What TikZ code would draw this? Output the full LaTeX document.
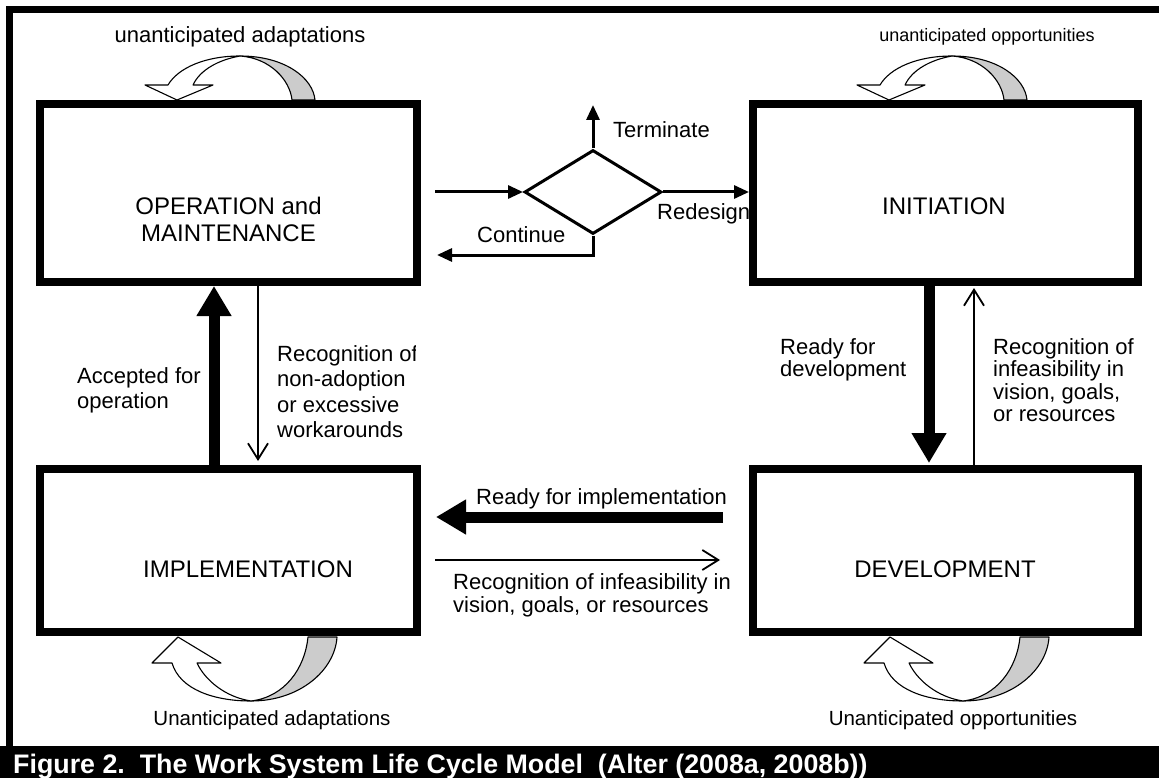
\documentclass[tikz,border=0pt]{standalone}
\usepackage{fontspec}
\setmainfont{Liberation Sans}
\usetikzlibrary{arrows.meta,shapes.geometric}
\definecolor{loopgray}{RGB}{204,204,204}
\newcommand\TopLoop{%
  \filldraw[loopline,fill=loopgray] (240,56) .. controls (285,56) and (313,78) .. (315,100) -- (292,100) .. controls (290,80) and (270,58) .. (240,56) -- cycle;
  \filldraw[loopline,fill=white] (193,85) -- (213,85) -- (177,100) -- (145,85) -- (168,85) .. controls (178,68) and (205,56) .. (240,56) .. controls (218,60) and (200,70) .. (193,85) -- cycle;
}
\newcommand\BottomLoop{%
  \filldraw[loopline,fill=loopgray] (251,701) .. controls (300,701) and (335,670) .. (337,637) -- (308,637) .. controls (305,668) and (285,697) .. (251,701) -- cycle;
  \filldraw[loopline,fill=white] (197,663) -- (221,663) -- (178,637) -- (152,663) -- (172,663) .. controls (180,690) and (215,701) .. (251,701) .. controls (225,697) and (205,680) .. (197,663) -- cycle;
}
\begin{document}
\begin{tikzpicture}[x=1pt,y=-1pt,
  loopline/.style={draw=black,line width=1.1pt,line join=round},
  stage/.style={draw,line width=8pt,inner sep=0pt},
  stagelabel/.style={inner sep=0pt,align=center,font=\fontsize{24}{27}\selectfont},
  lbl/.style={inner sep=0pt,align=left,font=\fontsize{22}{25}\selectfont},
  thickarrow/.style={line width=11pt,-{Triangle[length=30pt,width=33pt]}},
  thinarrow/.style={line width=1.8pt,-{Straight Barb[length=16pt,width=20pt,line width=1.8pt]}},
  flowarrow/.style={line width=3pt,-{Triangle[length=15pt,width=13pt]}}]
\useasboundingbox (0,0) rectangle (1159,778);
\fill[white] (0,0) rectangle (1159,778);
% frame
\draw[line width=7pt] (9.5,746) -- (9.5,9.5) -- (1159,9.5);
\fill[black] (0,746) rectangle (1159,778);
\node[anchor=base west,inner sep=0pt,text=white,font=\bfseries\fontsize{26.8}{30}\selectfont] (cap) at (13,773) {Figure 2.\ \ The Work System Life Cycle Model\ \ (Alter (2008a, 2008b))};
% loops
\TopLoop
\begin{scope}[shift={(712,0)}]\TopLoop\end{scope}
\BottomLoop
\begin{scope}[shift={(712,0)}]\BottomLoop\end{scope}
% stages
\node[stage,minimum width=377pt,minimum height=178pt] (om) at (228.5,193) {};
\node[stage,minimum width=385pt,minimum height=178pt] (init) at (945.5,193) {};
\node[stage,minimum width=377pt,minimum height=163pt] (imp) at (228.5,550.5) {};
\node[stage,minimum width=385pt,minimum height=163pt] (dev) at (945.5,550.5) {};
\node[stagelabel] (omlabel) at (228.5,219) {OPERATION and\\MAINTENANCE};
\node[stagelabel] (initlabel) at (944,206) {INITIATION};
\node[stagelabel] (implabel) at (248,569) {IMPLEMENTATION};
\node[stagelabel] (devlabel) at (945,569) {DEVELOPMENT};
% decision
\node[diamond,draw,line width=3pt,minimum width=137pt,minimum height=84pt,inner sep=0pt] (dm) at (593,192) {};
\coordinate (in) at (435,192);
\coordinate (term) at (593,105);
\coordinate (cont) at (437,255);
\draw[flowarrow] (in) -- (dm.west);
\draw[flowarrow] (dm.east) -- (dm.east -| init.west);
\draw[flowarrow] (dm.north) -- (term);
\draw[flowarrow] (dm.south) |- (cont);
\node[lbl,anchor=base west] (termlbl) at (613,138) {Terminate};
\node[lbl,anchor=base west] (redlbl) at (657,220) {Redesign};
\node[lbl,anchor=base west] (contlbl) at (477,242) {Continue};
% vertical arrows left
\draw[thickarrow] ([xshift=-14.5pt]imp.north) -- ([xshift=-14.5pt]om.south);
\draw[thinarrow,shorten >=4pt] ([xshift=29.5pt]om.south) -- ([xshift=29.5pt]imp.north);
\node[lbl,anchor=north west] (acclbl) at (77,367) {Accepted for\\operation};
\begin{scope}
\clip (270,330) rectangle (415,450);
\node[lbl,anchor=north west,font=\fontsize{22}{25.5}\selectfont] (nonlbl) at (277,345) {Recognition of\\non-adoption\\or excessive\\workarounds};
\end{scope}
% vertical arrows right
\draw[thickarrow,shorten >=2pt] ([xshift=-16.5pt]init.south) -- ([xshift=-16.5pt]dev.north);
\draw[thinarrow,shorten >=2pt] ([xshift=28.5pt]dev.north) -- ([xshift=28.5pt]init.south);
\node[lbl,anchor=north west,font=\fontsize{22}{22.5}\selectfont] (rdlbl) at (780,338) {Ready for\\development};
\node[lbl,anchor=north west,font=\fontsize{22}{22.5}\selectfont] (inflbl) at (993,338) {Recognition of\\infeasibility in\\vision, goals,\\or resources};
% horizontal arrows bottom
\draw[thickarrow,shorten <=26pt,shorten >=15pt] ([yshift=33.5pt]dev.west) -- ([yshift=33.5pt]imp.east);
\draw[thinarrow,shorten <=14pt,shorten >=29pt] ([yshift=-9.5pt]imp.east) -- ([yshift=-9.5pt]dev.west);
\node[lbl,anchor=north west] (rilbl) at (476,488) {Ready for implementation};
\node[lbl,anchor=north west,font=\fontsize{22}{23}\selectfont] (inf2lbl) at (453,573) {Recognition of infeasibility in\\vision, goals, or resources};
% loop labels
\node[lbl,anchor=base] (ua1) at (240,43) {unanticipated adaptations};
\node[lbl,anchor=base,font=\fontsize{18}{20}\selectfont] (uo1) at (987,42) {unanticipated opportunities};
\node[lbl,anchor=base,font=\fontsize{20.5}{22}\selectfont] (ua2) at (272,725) {Unanticipated adaptations};
\node[lbl,anchor=base,font=\fontsize{20.5}{22}\selectfont] (uo2) at (953,725) {Unanticipated opportunities};
\end{tikzpicture}
\end{document}
